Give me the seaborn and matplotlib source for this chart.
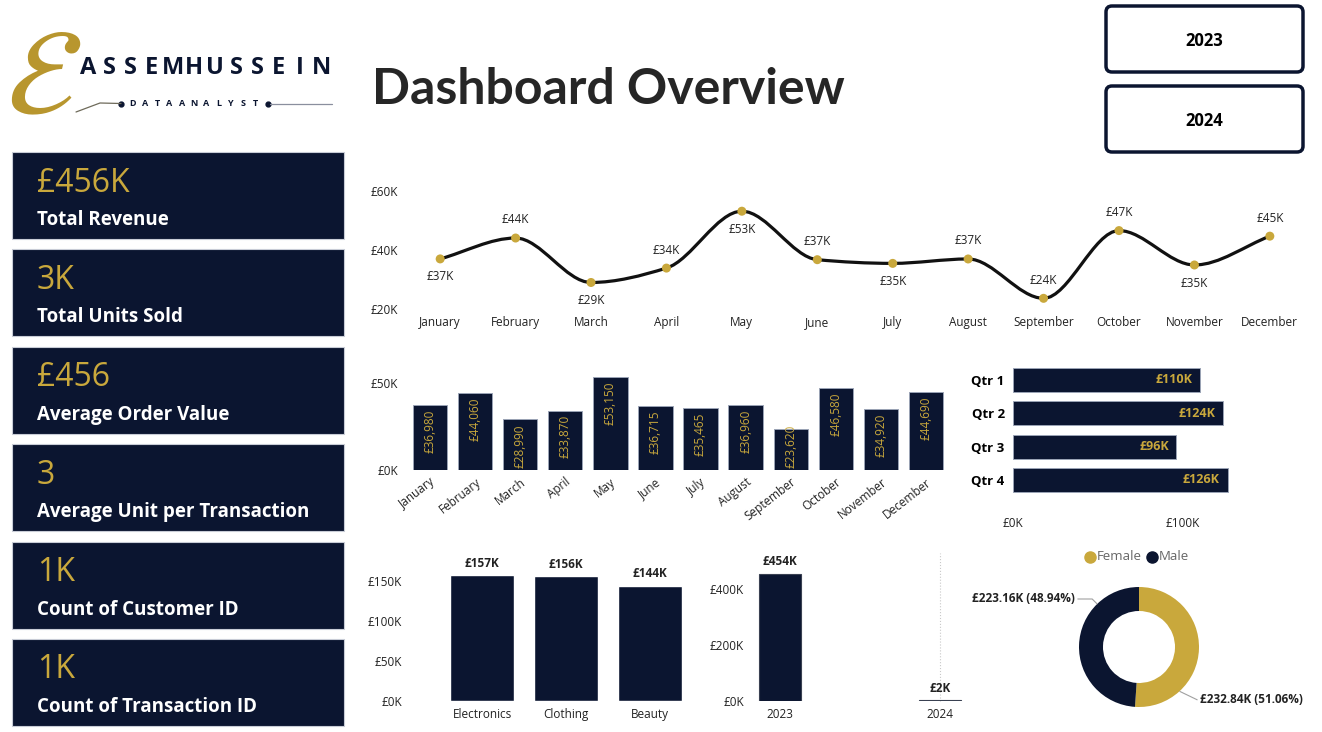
import numpy as np
import matplotlib
matplotlib.use("Agg")
import matplotlib.pyplot as plt
from matplotlib.patches import Rectangle, FancyBboxPatch, PathPatch
from matplotlib.path import Path
import seaborn as sns

months = ["January", "February", "March", "April", "May", "June", "July",
          "August", "September", "October", "November", "December"]
monthly_revenue = [36980, 44060, 28990, 33870, 53150, 36715, 35465,
                   36960, 23620, 46580, 34920, 44690]
line_label_side = ["down", "up", "down", "up", "down", "up", "down",
                   "up", "up", "up", "down", "up"]

quarters = ["Qtr 1", "Qtr 2", "Qtr 3", "Qtr 4"]
quarter_revenue = [110030, 123735, 96045, 126190]

categories = ["Electronics", "Clothing", "Beauty"]
category_revenue = [157000, 156000, 144000]

years = ["2023", "2024"]
year_revenue = [454000, 2000]

genders = ["Female", "Male"]
gender_revenue = [232840, 223160]
gender_labels = ["£232.84K (51.06%)", "£223.16K (48.94%)"]

kpi_values = ["£456K", "3K", "£456", "3", "1K", "1K"]
kpi_labels = ["Total Revenue", "Total Units Sold", "Average Order Value",
              "Average Unit per Transaction", "Count of Customer ID",
              "Count of Transaction ID"]

NAVY = "#0B1530"
GOLD = "#C9A83C"
TEXT = "#222222"

sns.set_theme(style="white")
plt.rcParams["font.family"] = ["Open Sans", "DejaVu Sans"]

W, H = 1322, 732
fig = plt.figure(figsize=(W / 100, H / 100), dpi=100)


def px_axes(x, y, w, h):
    return fig.add_axes([x / W, 1 - (y + h) / H, w / W, h / H])


def k_fmt(v):
    return f"£{v / 1000:.0f}K"


def clean(ax):
    ax.set_facecolor("none")
    for s in ax.spines.values():
        s.set_visible(False)
    ax.tick_params(length=0)
    ax.set_xlabel("")
    ax.set_ylabel("")


# Background canvas in pixel coordinates
bg = fig.add_axes([0, 0, 1, 1])
bg.set_xlim(0, W)
bg.set_ylim(H, 0)
bg.axis("off")

# Logo
bg.text(44, 82, r"$\mathcal{E}$", math_fontfamily="stix", fontsize=88,
        color="#B8962E", ha="center", va="center")
logo = "ASSEMHUSSEIN"
for i, ch in enumerate(logo):
    bg.text(88 + i * 21.2, 68, ch, fontsize=17, fontweight="bold",
            color=NAVY, ha="center", va="center")
sub = "DATAANALYST"
for i, ch in enumerate(sub):
    bg.text(133 + i * 12.2, 103.5, ch, fontsize=6.5, fontweight="bold",
            color=NAVY, ha="center", va="center")
bg.plot([121, 268], [103.5, 103.5], ls="none", marker="o", ms=3.5, color=NAVY)
bg.plot([270, 332], [103.5, 103.5], color="#8A8F9E", lw=0.9)
bg.plot([76, 100, 121], [112, 103, 103.5], color="#6E6A5A", lw=0.9)

# Title
bg.text(372, 90, "Dashboard Overview", fontsize=36, fontweight="bold",
        family="Lato", color="#262626", ha="left", va="center")

# Year buttons
for top, yr in zip([6, 86], years):
    bg.add_patch(FancyBboxPatch((1106, top), 197, 66,
                                boxstyle="round,pad=0,rounding_size=6",
                                fc="white", ec=NAVY, lw=2.5))
    bg.text(1204.5, top + 35, yr, fontsize=12, fontweight="bold",
            color="black", ha="center", va="center")

# KPI cards
for i, (val, lab) in enumerate(zip(kpi_values, kpi_labels)):
    top = 152 + i * 97.4
    bg.add_patch(Rectangle((12, top), 332, 87, fc=NAVY, ec="#C8CCD6", lw=0.8))
    bg.text(37, top + 31, val, color=GOLD, fontsize=23, ha="left", va="center")
    bg.text(37, top + 68, lab, color="white", fontsize=13.5, fontweight="bold",
            ha="left", va="center")


# Monthly revenue line (smooth, monotone between points)
def smooth_path(xs, ys):
    xs = np.asarray(xs, float)
    ys = np.asarray(ys, float)
    sec = np.diff(ys) / np.diff(xs)
    m = np.zeros_like(ys)
    m[0], m[-1] = sec[0], sec[-1]
    for i in range(1, len(ys) - 1):
        if sec[i - 1] * sec[i] > 0:
            m[i] = 2 / (1 / sec[i - 1] + 1 / sec[i])
    verts = [(xs[0], ys[0])]
    codes = [Path.MOVETO]
    for i in range(len(xs) - 1):
        h = xs[i + 1] - xs[i]
        verts += [(xs[i] + h / 3, ys[i] + m[i] * h / 3),
                  (xs[i + 1] - h / 3, ys[i + 1] - m[i + 1] * h / 3),
                  (xs[i + 1], ys[i + 1])]
        codes += [Path.CURVE4] * 3
    return Path(verts, codes)


ax1 = px_axes(410, 191, 890, 118)
xi = np.arange(len(months))
ax1.add_patch(PathPatch(smooth_path(xi, monthly_revenue), fc="none",
                        ec="#111111", lw=2.3, clip_on=False, zorder=2))
sns.scatterplot(x=xi, y=monthly_revenue, color=GOLD, s=42, edgecolor="none",
                ax=ax1, zorder=3, clip_on=False)
for i, v in enumerate(monthly_revenue):
    dy = 13 if line_label_side[i] == "up" else -13
    ax1.annotate(k_fmt(v), (i, v), xytext=(0, dy), textcoords="offset points",
                 ha="center", va="center", fontsize=8.5, color=TEXT)
ax1.set_xlim(-0.4, 11.4)
ax1.set_ylim(20000, 60000)
ax1.set_xticks(xi, months)
ax1.set_yticks([20000, 40000, 60000], ["£20K", "£40K", "£60K"])
clean(ax1)
ax1.tick_params(axis="x", pad=5, labelsize=8.5, labelcolor=TEXT)
ax1.tick_params(axis="y", pad=9, labelsize=8.5, labelcolor=TEXT)

# Monthly revenue bars
ax2 = px_axes(407.5, 365, 541, 105)
sns.barplot(x=months, y=monthly_revenue, color=NAVY, saturation=1, width=0.76,
            edgecolor="#9AA3B5", linewidth=0.7, ax=ax2)
for i, v in enumerate(monthly_revenue):
    if v > 32000:
        ax2.text(i, v - 2500, f"£{v:,}", rotation=90, ha="center", va="top",
                 color=GOLD, fontsize=8.5)
    else:
        ax2.text(i, 1200, f"£{v:,}", rotation=90, ha="center", va="bottom",
                 color=GOLD, fontsize=8.5, clip_on=False)
ax2.set_xlim(-0.5, 11.5)
ax2.set_ylim(0, 60000)
ax2.set_yticks([0, 50000], ["£0K", "£50K"])
ax2.set_xticks(range(len(months)), months, rotation=38, ha="right",
               rotation_mode="anchor")
clean(ax2)
ax2.tick_params(axis="x", pad=4, labelsize=8.5, labelcolor=TEXT)
ax2.tick_params(axis="y", pad=7, labelsize=8.5, labelcolor=TEXT)

# Quarter revenue bars
ax3 = px_axes(1013, 363.3, 238, 133.3)
sns.barplot(x=quarter_revenue, y=quarters, orient="h", color=NAVY, saturation=1,
            width=0.72, edgecolor="#9AA3B5", linewidth=0.7, ax=ax3)
for i, v in enumerate(quarter_revenue):
    ax3.text(v - 4500, i, k_fmt(v), ha="right", va="center", color=GOLD,
             fontsize=9, fontweight="bold")
ax3.set_xlim(0, 140000)
ax3.set_ylim(3.5, -0.5)
ax3.set_xticks([0, 100000], ["£0K", "£100K"])
clean(ax3)
ax3.tick_params(axis="x", pad=15, labelsize=8.5, labelcolor=TEXT)
ax3.tick_params(axis="y", pad=6, labelsize=9.5, labelcolor="black")
for t in ax3.get_yticklabels():
    t.set_fontweight("bold")

# Category revenue bars
ax4 = px_axes(406.4, 561, 285.6, 140)
sns.barplot(x=categories, y=category_revenue, color=NAVY, saturation=1,
            width=0.76, ax=ax4)
for i, v in enumerate(category_revenue):
    ax4.annotate(k_fmt(v), (i, v), xytext=(0, 4), textcoords="offset points",
                 ha="center", va="bottom", fontsize=8.5, fontweight="bold",
                 color=TEXT)
ax4.set_xlim(-0.9, 2.5)
ax4.set_ylim(0, 175000)
ax4.set_yticks([0, 50000, 100000, 150000], ["£0K", "£50K", "£100K", "£150K"])
clean(ax4)
ax4.tick_params(axis="x", pad=5, labelsize=8.5, labelcolor=TEXT)
ax4.tick_params(axis="y", pad=3, labelsize=8.5, labelcolor=TEXT)

# Year revenue bars
ax5 = px_axes(748, 561, 240, 140)
sns.barplot(x=years, y=year_revenue, color=NAVY, saturation=1, width=0.26,
            edgecolor="#3A4152", linewidth=0.8, ax=ax5)
ax5.axvline(1, ymin=0, ymax=1.06, color="#C9C9C9", ls=":", lw=0.8,
            clip_on=False, zorder=0)
for i, v in enumerate(year_revenue):
    ax5.annotate(k_fmt(v), (i, v), xytext=(0, 4), textcoords="offset points",
                 ha="center", va="bottom", fontsize=8.5, fontweight="bold",
                 color=TEXT)
ax5.set_xlim(-0.2, 1.3)
ax5.set_ylim(0, 500000)
ax5.set_yticks([0, 200000, 400000], ["£0K", "£200K", "£400K"])
clean(ax5)
ax5.tick_params(axis="x", pad=5, labelsize=8.5, labelcolor=TEXT)
ax5.tick_params(axis="y", pad=3, labelsize=8.5, labelcolor=TEXT)

# Gender donut
ax6 = px_axes(1079, 587, 120, 120)
ax6.pie(gender_revenue, colors=[GOLD, NAVY], startangle=90, counterclock=False,
        wedgeprops=dict(width=0.4, edgecolor="none"))
ax6.set_xlim(-1, 1)
ax6.set_ylim(-1, 1)
ax6.plot([0.68, 0.97], [-0.74, -0.88], color="#A0A0A0", lw=0.8, clip_on=False)
ax6.text(1.02, -0.88, gender_labels[0], ha="left", va="center", fontsize=8.5,
         fontweight="bold", color=TEXT, clip_on=False)
ax6.plot([-1.02, -0.78, -0.70], [0.80, 0.80, 0.72], color="#A0A0A0", lw=0.8,
         clip_on=False)
ax6.text(-1.07, 0.80, gender_labels[1], ha="right", va="center", fontsize=8.5,
         fontweight="bold", color=TEXT, clip_on=False)

# Donut legend
for (cx, name), col in zip([(1090, genders[0]), (1152, genders[1])], [GOLD, NAVY]):
    bg.plot(cx, 557, marker="o", ms=8, color=col)
    bg.text(cx + 7, 557, name, fontsize=9.5, color="#666666", ha="left",
            va="center")

fig.savefig("out.png", dpi=100)
